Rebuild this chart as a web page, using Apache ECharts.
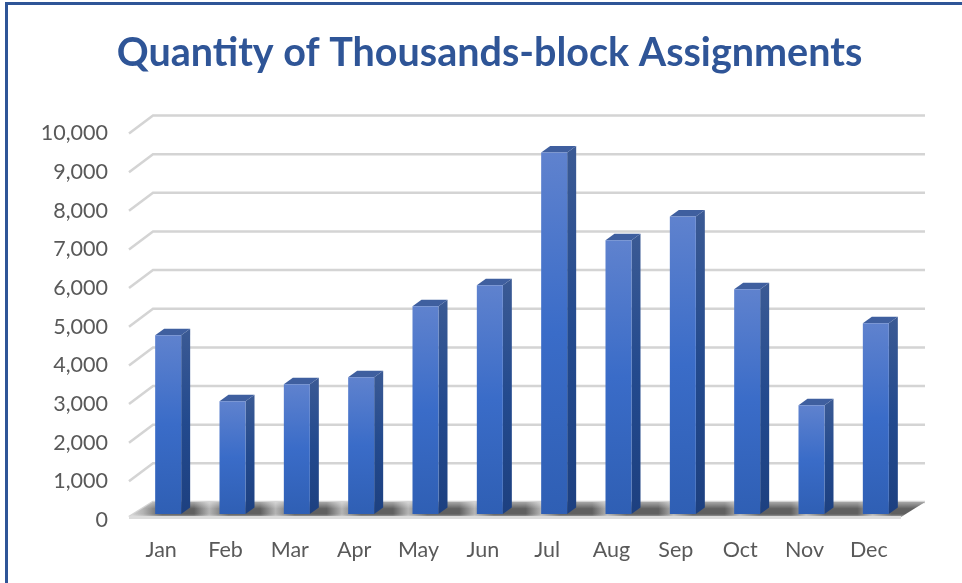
<!DOCTYPE html>
<html>
<head>
<meta charset="utf-8">
<title>Quantity of Thousands-block Assignments</title>
<script src="https://cdn.jsdelivr.net/npm/echarts@6/dist/echarts.min.js"></script>
<style>
    html,body{margin:0;padding:0;background:#fff;}
    #chart{width:962px;height:583px;}
</style>
</head>
<body>
<div id="chart"></div>
<script>
    var categories = ['Jan','Feb','Mar','Apr','May','Jun','Jul','Aug','Sep','Oct','Nov','Dec'];
    var assignments = [4625,2920,3360,3540,5375,5917,9354,7080,7700,5814,2816,4935];
    var yTicks = [0,1000,2000,3000,4000,5000,6000,7000,8000,9000,10000];

    // fake 3d: how far the back wall sits from the axis plane, and the bar's own depth
    var wallX = 24, wallY = -18;
    var floorFront = -3;
    var barShiftX = 7, barShiftY = -6;
    var barDepthX = 9, barDepthY = -6.5;
    var barWidth = 26;

    function renderWall(params, api){
        var rect = params.coordSys;
        var y = api.coord([0, api.value(0)])[1];
        // the 0 line is only the back edge of the floor, its side runs along the floor
        var left = rect.x, right = rect.x + rect.width;
        var startY = api.value(0) === 0 ? y + floorFront : y;
        return {
            type:'polyline',
            shape:{points:[[left,startY],[left+wallX,y+wallY],[right+wallX,y+wallY]]},
            style:{fill:null,stroke:'#d4d4d4',lineWidth:2.5}
        };
    }

    function renderFloor(params, api){
        var rect = params.coordSys;
        var y = api.coord([0,0])[1];
        var left = rect.x, right = rect.x + rect.width;
        var n = categories.length;
        var stops = [{offset:0,color:'#d6d6d6'}];
        // shadow falls right of each bar, light patch in the gaps
        categories.forEach(function(c,i){
            stops.push({offset:(i+0.21)/n,color:'#b4b4b4'});
            stops.push({offset:(i+0.5)/n,color:'#606060'});
            stops.push({offset:(i+0.98)/n,color:'#606060'});
        });
        stops.push({offset:1,color:'#8a8a8a'});
        var pts = [[left,y+floorFront],[left+wallX,y+wallY],[right+wallX,y+wallY],[right,y+floorFront]];
        return {
            type:'group',
            children:[{
                type:'polygon',
                shape:{points:pts},
                style:{fill:new echarts.graphic.LinearGradient(0,0,1,0,stops)}
            },{
                type:'polygon',
                shape:{points:pts},
                style:{fill:new echarts.graphic.LinearGradient(0,0,0,1,[
                    {offset:0,color:'rgba(255,255,255,0.45)'},
                    {offset:0.45,color:'rgba(255,255,255,0)'},
                    {offset:0.8,color:'rgba(255,255,255,0)'},
                    {offset:1,color:'rgba(255,255,255,0.45)'}
                ])}
            },{
                type:'line',
                shape:{x1:left,y1:y+floorFront+0.5,x2:right,y2:y+floorFront+0.5},
                style:{stroke:'#dcdcdc',lineWidth:3}
            }]
        };
    }

    function renderBar(params, api){
        var top = api.coord([api.value(0), api.value(1)]);
        var base = api.coord([api.value(0), 0]);
        var x0 = top[0] - barWidth/2 + barShiftX, x1 = x0 + barWidth;
        var yT = top[1] + barShiftY, yB = base[1] + barShiftY;
        return {
            type:'group',
            children:[{
                type:'polygon',
                shape:{points:[[x1,yT],[x1+barDepthX,yT+barDepthY],[x1+barDepthX,yB+barDepthY],[x1,yB]]},
                style:{fill:new echarts.graphic.LinearGradient(0,0,0,1,[
                    {offset:0,color:'#3b5a94'},{offset:0.5,color:'#234a8e'},{offset:1,color:'#1d4080'}
                ])}
            },{
                type:'polygon',
                shape:{points:[[x0,yT],[x0+barDepthX,yT+barDepthY],[x1+barDepthX,yT+barDepthY],[x1,yT]]},
                style:{fill:'#3f5f9f'}
            },{
                type:'rect',
                shape:{x:x0,y:yT,width:barWidth,height:yB-yT},
                style:{
                    fill:new echarts.graphic.LinearGradient(0,0,0,1,[
                        {offset:0,color:'#5f82ce'},{offset:0.5,color:'#3a6cc8'},{offset:1,color:'#2f5fb4'}
                    ])
                }
            }]
        };
    }

    var myChart = echarts.init(document.getElementById('chart'),null,{renderer:'canvas'});
    myChart.setOption({
        animation:false,
        backgroundColor:'#fff',
        title:{
            text:'Quantity of Thousands-block Assignments',
            left:484.5,
            top:28,
            textAlign:'center',
            textStyle:{color:'#2f5597',fontFamily:'Lato',fontWeight:'bold',fontSize:39.5}
        },
        grid:{left:129,right:61,top:133.5,bottom:63},
        xAxis:{
            type:'category',
            data:categories,
            axisLine:{show:false},
            axisTick:{show:false},
            axisLabel:{color:'#595959',fontFamily:'Lato',fontSize:21.5,margin:19}
        },
        yAxis:{
            type:'value',
            min:0,
            max:10000,
            interval:1000,
            axisLine:{show:false},
            axisTick:{show:false},
            splitLine:{show:false},
            axisLabel:{
                color:'#595959',fontFamily:'Lato',fontSize:21.5,margin:21,padding:[2,0,0,0],
                formatter:function(v){return v.toLocaleString('en-US');}
            }
        },
        series:[
            {type:'custom',name:'wall',data:yTicks.map(function(v){return [v];}),renderItem:renderWall,silent:true,z:1,encode:{y:0}},
            {type:'custom',name:'floor',data:[[0]],renderItem:renderFloor,silent:true,z:2,encode:{y:0}},
            {type:'custom',name:'Assignments',data:categories.map(function(c,i){return [i,assignments[i]];}),renderItem:renderBar,z:3,encode:{x:0,y:1}}
        ],
        graphic:[
            {type:'line',shape:{x1:5,y1:3.5,x2:962,y2:3.5},style:{stroke:'#2f5597',lineWidth:3}},
            {type:'line',shape:{x1:6.5,y1:2,x2:6.5,y2:583},style:{stroke:'#2f5597',lineWidth:3}}
        ]
    });
</script>
</body>
</html>
